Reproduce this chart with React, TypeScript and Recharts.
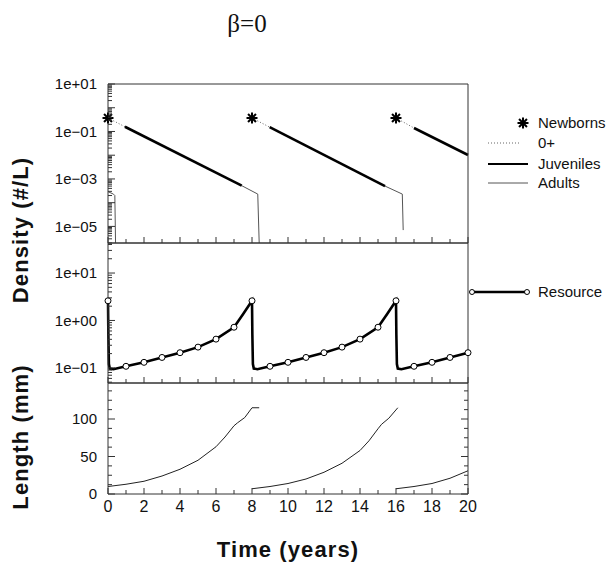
import React from 'react';
import { ComposedChart, Line, XAxis, YAxis } from 'recharts';

// time axis
const yearTicks = [0, 1, 2, 3, 4, 5, 6, 7, 8, 9, 10, 11, 12, 13, 14, 15, 16, 17, 18, 19, 20];
const yearLabels = [0, 2, 4, 6, 8, 10, 12, 14, 16, 18, 20];

// density panel (log)
const densityDecades = [1e-5, 1e-4, 1e-3, 1e-2, 1e-1, 1, 10];
const densityLabels = [10, 1e-1, 1e-3, 1e-5];
const newbornT = [0, 8, 16];
const newbornD = [0.37, 0.37, 0.37];
const zeroPlusT = [[0, 0.94], [8, 8.98], [16, 17.0]];
const zeroPlusD = [[0.37, 0.158], [0.37, 0.152], [0.37, 0.14]];
const juvT = [[0.94, 7.43], [8.98, 15.39], [17.0, 20]];
const juvD = [[0.158, 5.2e-4], [0.152, 5.0e-4], [0.14, 0.0102]];
const adultT = [[0, 0.3, 0.38, 0.42], [7.43, 8.32, 8.4], [15.39, 16.35, 16.4]];
const adultD = [[2.9e-4, 2.3e-4, 2.0e-4, 2e-6], [5.2e-4, 2.3e-4, 2e-6], [5.0e-4, 2.3e-4, 7e-6]];

// resource panel (log)
const resourceDecades = [0.1, 1, 10];
const resourceLabels = [10, 1, 0.1];
const resT = [0, 0.02, 0.05, 0.1, 0.3, 1, 2, 3, 4, 5, 6, 7, 7.5, 8, 8.02, 8.05, 8.1, 8.3, 9, 10, 11, 12, 13, 14, 15, 15.5, 16, 16.02, 16.05, 16.1, 16.3, 17, 18, 19, 20];
const resV = [2.6, 0.5, 0.12, 0.097, 0.094, 0.108, 0.131, 0.166, 0.209, 0.274, 0.404, 0.72, 1.35, 2.6, 0.5, 0.12, 0.097, 0.094, 0.108, 0.131, 0.166, 0.209, 0.274, 0.404, 0.72, 1.35, 2.6, 0.5, 0.12, 0.097, 0.094, 0.108, 0.131, 0.166, 0.209];

// length panel
const lengthTicks = [0, 12.5, 25, 37.5, 50, 62.5, 75, 87.5, 100, 112.5, 125, 137.5];
const lengthLabels = [0, 50, 100];
const lenT = [
  [0, 1, 2, 3, 4, 5, 6, 6.5, 7, 7.2, 7.6, 8, 8.4],
  [8, 9, 10, 11, 12, 13, 14, 14.5, 15, 15.2, 15.6, 16.1],
  [16, 17, 18, 19, 20],
];
const lenV = [
  [10, 13, 17, 24, 33, 45, 63, 76, 91, 95, 102, 115, 115],
  [7, 10, 14, 20, 29, 41, 58, 71, 87, 93, 101, 115],
  [7, 10, 14, 21, 31],
];

const AX = '#333';
const FONT = '"Liberation Sans", Arial, Helvetica, sans-serif';

const pts = (ts: number[], vs: number[]) => ts.map((t, i) => ({ t, v: vs[i] }));

const withMinors = (decades: number[], lo: number, hi: number) => {
  const out: number[] = [];
  decades.concat([decades[0] / 10]).forEach((d) => {
    for (let m = 1; m < 10; m++) {
      const v = d * m;
      if (v >= lo * 0.999 && v <= hi * 1.001) out.push(v);
    }
  });
  return out.sort((a, b) => a - b);
};

const near = (a: number, v: number) => Math.abs(a - v) <= Math.abs(a) * 1e-6 + 1e-9;

const expFmt = (v: number) => {
  const e = Math.round(Math.log10(v));
  return `1e${e < 0 ? '−' : '+'}${String(Math.abs(e)).padStart(2, '0')}`;
};

const makeYTick = (side: 'l' | 'r', majors: number[], labels: number[], fmt: (v: number) => string) => (p: any) => {
  const v = p.payload.value;
  const major = majors.some((m) => near(m, v));
  const len = major ? 7 : 4;
  const dir = side === 'l' ? 1 : -1;
  return (
    <g>
      <line x1={p.x} y1={p.y} x2={p.x + dir * len} y2={p.y} stroke={AX} strokeWidth={1} />
      {side === 'l' && labels.some((m) => near(m, v)) && (
        <text x={p.x - 11} y={p.y} dy="0.36em" textAnchor="end" fontSize={15} fontFamily={FONT} fill="#111">
          {fmt(v)}
        </text>
      )}
    </g>
  );
};

const makeXTick = (side: 'top' | 'bottom', showLabels: boolean) => (p: any) => {
  const v = p.payload.value;
  const dir = side === 'top' ? 1 : -1;
  const len = v % 2 === 0 ? 6 : 4;
  return (
    <g>
      <line x1={p.x} y1={p.y} x2={p.x} y2={p.y + dir * len} stroke={AX} strokeWidth={1} />
      {showLabels && yearLabels.includes(v) && (
        <text x={p.x} y={side === 'top' ? p.y - 13 : p.y + 18} textAnchor="middle" fontSize={16} fontFamily={FONT} fill="#111">
          {v}
        </text>
      )}
    </g>
  );
};

const Star = ({ cx, cy }: { cx: number; cy: number }) => {
  const r = 5.5;
  const d = r * 0.72;
  return (
    <g stroke="#000" strokeWidth={2}>
      <line x1={cx - r} y1={cy} x2={cx + r} y2={cy} />
      <line x1={cx} y1={cy - r} x2={cx} y2={cy + r} />
      <line x1={cx - d} y1={cy - d} x2={cx + d} y2={cy + d} />
      <line x1={cx - d} y1={cy + d} x2={cx + d} y2={cy - d} />
    </g>
  );
};

const W = 609;
const H = 566;
const LEFT = 48;
const RIGHT = 131;

type PanelProps = {
  top: number;
  bottom: number;
  topAxisH: number;
  bottomAxisH: number;
  topLabels: boolean;
  bottomLabels: boolean;
  children: React.ReactNode;
  yProps: any;
  yMajors: number[];
  yLabels: number[];
  yFmt: (v: number) => string;
};

function Panel({ top, bottom, topAxisH, bottomAxisH, topLabels, bottomLabels, children, yProps, yMajors, yLabels, yFmt }: PanelProps) {
  return (
    <div style={{ position: 'absolute', left: 0, top: 0 }}>
      <ComposedChart
        width={W}
        height={H}
        margin={{ top: top - topAxisH, right: RIGHT, bottom: H - bottom - bottomAxisH, left: LEFT }}
      >
        <XAxis
          xAxisId="t"
          orientation="top"
          dataKey="t"
          type="number"
          domain={[0, 20]}
          ticks={yearTicks}
          interval={0}
          height={topAxisH}
          tickSize={0}
          tickMargin={0}
          tickLine={false}
          axisLine={{ stroke: AX }}
          tick={makeXTick('top', topLabels)}
        />
        <XAxis
          xAxisId="b"
          orientation="bottom"
          dataKey="t"
          type="number"
          domain={[0, 20]}
          ticks={yearTicks}
          interval={0}
          height={bottomAxisH}
          tickSize={0}
          tickMargin={0}
          tickLine={false}
          axisLine={{ stroke: AX }}
          tick={makeXTick('bottom', bottomLabels)}
        />
        <YAxis
          yAxisId="l"
          width={60}
          interval={0}
          tickSize={0}
          tickMargin={0}
          tickLine={false}
          axisLine={{ stroke: AX }}
          tick={makeYTick('l', yMajors, yLabels, yFmt)}
          {...yProps}
        />
        <YAxis
          yAxisId="r"
          orientation="right"
          width={10}
          interval={0}
          tickSize={0}
          tickMargin={0}
          tickLine={false}
          axisLine={{ stroke: AX }}
          tick={makeYTick('r', yMajors, [], yFmt)}
          {...yProps}
        />
        {children}
      </ComposedChart>
    </div>
  );
}

const lineBase = {
  xAxisId: 'b',
  yAxisId: 'l',
  dataKey: 'v',
  type: 'linear' as const,
  dot: false,
  activeDot: false,
  isAnimationActive: false,
  legendType: 'none' as const,
};

export default function App() {
  const densityTicks = withMinors(densityDecades, 2e-6, 10);
  const resourceTicks = withMinors(resourceDecades, 0.048, 43);

  return (
    <div style={{ position: 'absolute', left: 0, top: 0, width: W, height: H, background: '#fff', overflow: 'hidden' }}>
      {/* density */}
      <Panel
        top={84}
        bottom={243}
        topAxisH={30}
        bottomAxisH={10}
        topLabels
        bottomLabels={false}
        yProps={{ type: 'number', scale: 'log', domain: [2e-6, 10], ticks: densityTicks, allowDataOverflow: false }}
        yMajors={densityDecades}
        yLabels={densityLabels}
        yFmt={expFmt}
      >
        {adultT.map((ts, i) => (
          <Line key={`a${i}`} {...lineBase} data={pts(ts, adultD[i])} stroke="#555" strokeWidth={1} />
        ))}
        {zeroPlusT.map((ts, i) => (
          <Line key={`z${i}`} {...lineBase} data={pts(ts, zeroPlusD[i])} stroke="#666" strokeWidth={1} strokeDasharray="1 2" />
        ))}
        {juvT.map((ts, i) => (
          <Line key={`j${i}`} {...lineBase} data={pts(ts, juvD[i])} stroke="#000" strokeWidth={2.6} />
        ))}
        <Line
          {...lineBase}
          data={pts(newbornT, newbornD)}
          stroke="none"
          strokeWidth={0}
          dot={(p: any) => <Star key={`s${p.index}`} cx={p.cx} cy={p.cy} />}
        />
      </Panel>

      {/* resource */}
      <Panel
        top={243}
        bottom={383}
        topAxisH={10}
        bottomAxisH={10}
        topLabels={false}
        bottomLabels={false}
        yProps={{ type: 'number', scale: 'log', domain: [0.048, 43], ticks: resourceTicks, allowDataOverflow: false }}
        yMajors={resourceDecades}
        yLabels={resourceLabels}
        yFmt={expFmt}
      >
        <Line
          {...lineBase}
          data={pts(resT, resV)}
          stroke="#000"
          strokeWidth={2.6}
          dot={(p: any) =>
            Number.isInteger(p.payload.t) ? (
              <circle key={`r${p.index}`} cx={p.cx} cy={p.cy} r={3} fill="#fff" stroke="#000" strokeWidth={1} />
            ) : (
              <g key={`r${p.index}`} />
            )
          }
        />
      </Panel>

      {/* length */}
      <Panel
        top={383}
        bottom={494}
        topAxisH={10}
        bottomAxisH={30}
        topLabels={false}
        bottomLabels
        yProps={{ type: 'number', domain: [0, 148], ticks: lengthTicks, allowDataOverflow: true }}
        yMajors={lengthLabels}
        yLabels={lengthLabels}
        yFmt={(v: number) => String(v)}
      >
        {lenT.map((ts, i) => (
          <Line key={`l${i}`} {...lineBase} data={pts(ts, lenV[i])} stroke="#222" strokeWidth={1} />
        ))}
      </Panel>

      {/* titles and legend */}
      <svg width={W} height={H} style={{ position: 'absolute', left: 0, top: 0, pointerEvents: 'none' }}>
        <text x={247} y={32} textAnchor="middle" fontSize={25} fontFamily='"Liberation Serif", "Times New Roman", serif' fill="#111">
          β=0
        </text>
        <text transform="translate(28,230) rotate(-90)" textAnchor="middle" fontSize={22} fontWeight="bold" letterSpacing={1.1} fontFamily={FONT} fill="#111">
          Density (#/L)
        </text>
        <text transform="translate(28,437) rotate(-90)" textAnchor="middle" fontSize={22} fontWeight="bold" letterSpacing={1.1} fontFamily={FONT} fill="#111">
          Length (mm)
        </text>
        <text x={288} y={557} textAnchor="middle" fontSize={22} fontWeight="bold" letterSpacing={1.1} fontFamily={FONT} fill="#111">
          Time (years)
        </text>

        <g fontSize={15} fontFamily={FONT} fill="#111">
          <Star cx={523} cy={123} />
          <text x={538} y={128}>Newborns</text>
          <line x1={488} y1={143} x2={520} y2={143} stroke="#666" strokeWidth={1} strokeDasharray="1 2" />
          <text x={538} y={148}>0+</text>
          <line x1={488} y1={164} x2={528} y2={164} stroke="#000" strokeWidth={2.2} />
          <text x={538} y={169}>Juveniles</text>
          <line x1={488} y1={183} x2={528} y2={183} stroke="#555" strokeWidth={1} />
          <text x={538} y={188}>Adults</text>
          <line x1={472} y1={292} x2={527} y2={292} stroke="#000" strokeWidth={2.4} />
          <circle cx={472} cy={292} r={2.5} fill="#fff" stroke="#000" strokeWidth={1} />
          <circle cx={527} cy={292} r={2.5} fill="#fff" stroke="#000" strokeWidth={1} />
          <text x={538} y={297}>Resource</text>
        </g>
      </svg>
    </div>
  );
}
